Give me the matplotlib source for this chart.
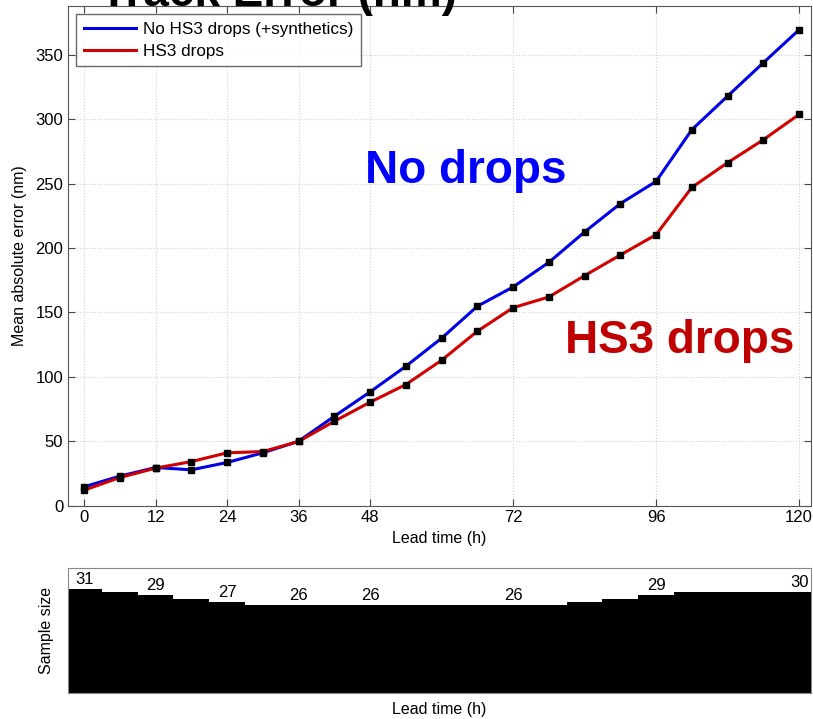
import matplotlib
matplotlib.use('Agg')
import matplotlib.pyplot as plt

plt.rcParams['font.family'] = ['Liberation Sans', 'DejaVu Sans']

# lead times (h) and mean absolute track error (nm)
lead = [0, 6, 12, 18, 24, 30, 36, 42, 48, 54, 60, 66, 72, 78, 84, 90, 96, 102, 108, 114, 120]
no_drops = [14.5, 22.8, 29.5, 27.7, 33.4, 40.9, 49.9, 69.3, 88.2, 108.1, 129.9, 154.7,
            169.7, 188.8, 212.4, 234.4, 251.7, 291.8, 317.9, 343.8, 369.4]
hs3_drops = [11.9, 21.7, 29.0, 34.1, 40.9, 41.9, 49.7, 65.4, 80.2, 93.9, 112.8, 135.3,
             153.6, 161.9, 178.5, 194.5, 210.3, 247.0, 266.2, 284.0, 303.7]
# sample size per lead time
sample = [31, 30, 29, 28, 27, 26, 26, 26, 26, 26, 26, 26, 26, 26, 27, 28, 29, 30, 30, 30, 30]
label_hours = [0, 12, 24, 36, 48, 72, 96, 120]
xticks = [0, 12, 24, 36, 48, 72, 96, 120]

W, H = 813, 719
fig = plt.figure(figsize=(W / 100, H / 100), dpi=100)

# main panel
ax = fig.add_axes([68 / W, 1 - 505.5 / H, (811 - 68) / W, (505.5 - 6) / H])
ax.plot(lead, no_drops, color='#0000e6', lw=2.2, label='No HS3 drops (+synthetics)', zorder=3)
ax.plot(lead, hs3_drops, color='#d00000', lw=2.2, label='HS3 drops', zorder=3)
# black square markers on both curves
ax.plot(lead, no_drops, ls='none', marker='s', ms=5, color='black', zorder=4)
ax.plot(lead, hs3_drops, ls='none', marker='s', ms=5, color='black', zorder=4)
ax.set_xlim(-2.7, 122)
ax.set_ylim(0, 1.05 * max(no_drops))
ax.set_xticks(xticks)
ax.set_yticks(range(0, 351, 50))
ax.grid(True, color='#d0d0d0', linestyle=':', linewidth=0.8)
ax.tick_params(direction='in', top=True, right=True, length=5, labelsize=12, color='#444444')
for s in ax.spines.values():
    s.set_color('#555555')
ax.set_xlabel('Lead time (h)', fontsize=11.5, labelpad=4)
ax.set_ylabel('Mean absolute error (nm)', fontsize=11.5, labelpad=6)
leg = ax.legend(loc='upper left', bbox_to_anchor=(0.0108, 0.984), fontsize=12.3, frameon=True,
                fancybox=False, edgecolor='#444444', handlelength=3.05, borderpad=0.45,
                labelspacing=0.4, handletextpad=0.4, borderaxespad=0)
leg.get_frame().set_linewidth(1.0)

ax.text(47.2, 250.6, 'No drops', color='#0000ff', fontsize=33, fontweight='bold',
        ha='left', va='baseline')
ax.text(80.7, 118.5, 'HS3 drops', color='#c00000', fontsize=33, fontweight='bold',
        ha='left', va='baseline')

# title cut off at top edge, as in the source
fig.text(457 / W, 1 - 6 / H, 'Track Error (nm)', fontsize=33, fontweight='bold',
         ha='right', va='baseline')

# sample size panel
ax2 = fig.add_axes([68 / W, 1 - 693.3 / H, (811 - 68) / W, (693.3 - 568.3) / H])
edges = [h - 3 for h in lead] + [lead[-1] + 3]
ax2.stairs(sample, edges, fill=True, color='black')
ax2.set_xlim(-2.7, 122)
ax2.set_ylim(0, 37)
ax2.set_xticks([])
ax2.set_yticks([])
for s in ax2.spines.values():
    s.set_color('#888888')
for h in label_hours:
    n = sample[lead.index(h)]
    ax2.text(h, n + 0.6, str(n), ha='center', va='bottom', fontsize=12)
ax2.set_xlabel('Lead time (h)', fontsize=11.5, labelpad=6)
ax2.set_ylabel('Sample size', fontsize=11.5, labelpad=10)

fig.savefig('out.png', dpi=100)
